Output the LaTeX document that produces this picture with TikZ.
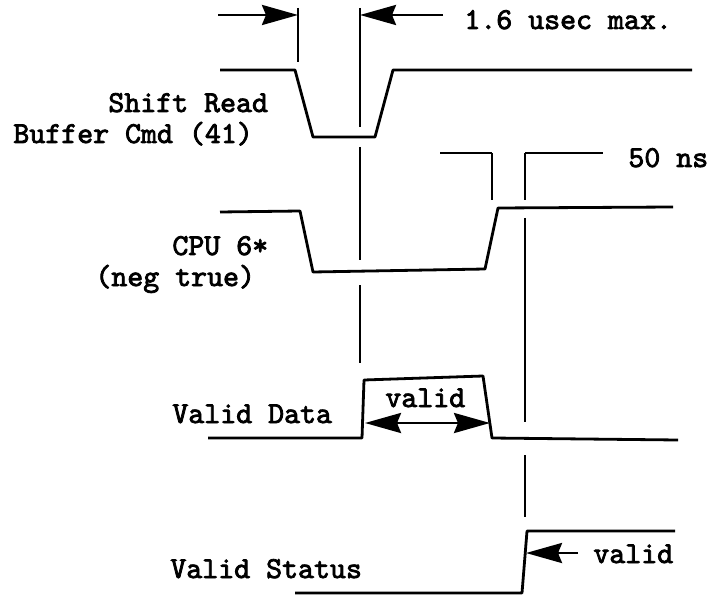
\documentclass[tikz,border=0pt]{standalone}
\usepackage{fontspec}
\newfontfamily\typew{lmmono10-regular.otf}[FakeBold=2.6]
\usetikzlibrary{arrows.meta}
\begin{document}
\begin{tikzpicture}[x=0.5pt, y=-0.5pt,
    sig/.style={line width=1.4pt, line join=round},
    arr/.style={sig, -{Stealth[length=18pt,width=10pt,inset=2pt]}},
    darr/.style={sig, {Stealth[length=18pt,width=10pt,inset=2pt]}-{Stealth[length=18pt,width=10pt,inset=2pt]}},
    lbl/.style={font=\typew\fontsize{15.2}{18}\selectfont, inner sep=0pt, anchor=base west}]
\useasboundingbox (0,0) rectangle (721,598);

\draw[sig](220,70)--(295,70)--(313,137)--(375,137)--(393,70)--(692,70);
\draw[sig](220,212)--(300,211)--(313,272)--(485,269)--(498,208)--(673,207);
\draw[sig](208,438)--(362,438)--(364,380)--(483,376)--(492,438)--(678,440);
\draw[sig](295,593)--(522,593)--(527,531)--(675,531);

\foreach \a/\b in {8/127,147/260,285/363} \draw[sig](360,\a)--(360,\b);
\foreach \a/\b in {153/200,218/422,455/517} \draw[sig](525,\a)--(525,\b);
\draw[sig](298,8)--(298,62);
\draw[sig](492,153)--(492,200);

\coordinate (usecL) at (218,15);
\coordinate (usecA) at (298,15);
\coordinate (usecR) at (443,15);
\coordinate (usecB) at (360,15);
\draw[arr](usecL)--(usecA);
\draw[arr](usecR)--(usecB);
\node[lbl] (usec) at (464,29) {1.6 usec max.};

\coordinate (nsL) at (440,153);
\coordinate (nsA) at (492,153);
\coordinate (nsB) at (525,153);
\coordinate (nsR) at (603,153);
\draw[sig](nsL)--(nsA);
\draw[sig](nsB)--(nsR);
\node[lbl] (ns) at (628,167) {50 ns};

\node[lbl] (shift) at (108,112) {Shift Read};
\node[lbl] (buffer) at (13,143) {Buffer Cmd (41)};
\node[lbl] (cpu) at (172,255) {CPU 6*};
\node[lbl] (neg) at (95,286) {(neg true)};
\node[lbl] (vdata) at (172,423) {Valid Data};
\node[lbl] (vstat) at (170,578) {Valid Status};

\coordinate (dataL) at (365,423);
\coordinate (dataR) at (490,423);
\draw[darr](dataL)--(dataR);
\node[lbl] (datavalid) at (385,407) {valid};

\coordinate (statR) at (578,553);
\coordinate (statA) at (526,553);
\draw[arr](statR)--(statA);
\node[lbl] (statvalid) at (593,563) {valid};
\end{tikzpicture}
\end{document}
